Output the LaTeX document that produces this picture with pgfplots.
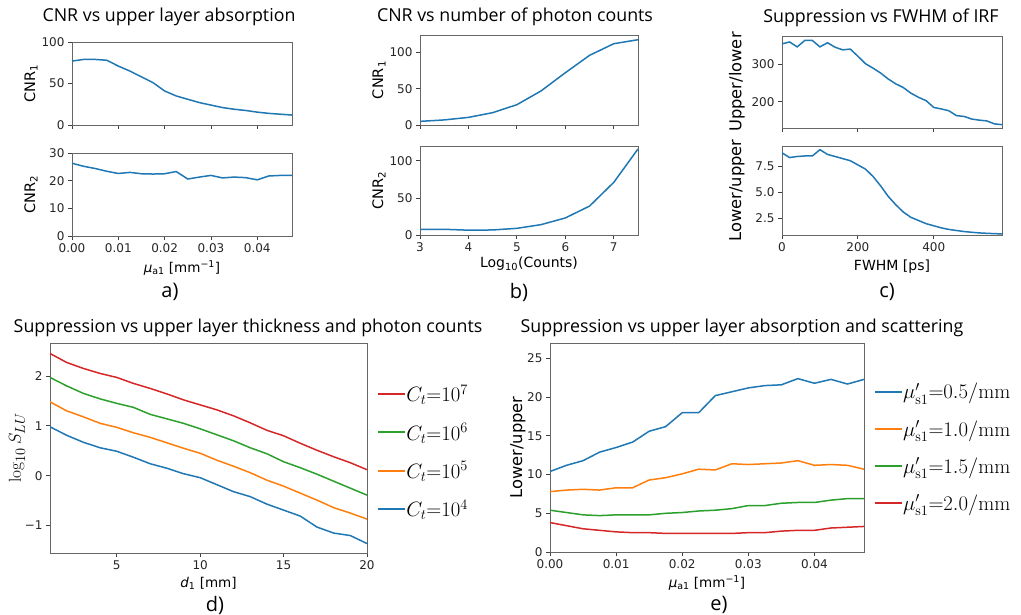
\documentclass[border=0pt]{standalone}
\usepackage[no-math]{fontspec}
\setmainfont{DejaVu Sans}
\newfontfamily\titlefont{Open Sans}
\usepackage{pgfplots}
\usepackage{pgfplotstable}
\pgfplotsset{compat=1.18}

\definecolor{tabblue}{HTML}{1F77B4}
\definecolor{taborange}{HTML}{FF7F0E}
\definecolor{tabgreen}{HTML}{2CA02C}
\definecolor{tabred}{HTML}{D62728}

% panel a: CNR vs upper layer absorption
\pgfplotstableread{
mu      cnra  cnrb
0.0000  77    26.3
0.0025  79    25.2
0.0050  79    24.4
0.0075  78    23.4
0.0100  71    22.6
0.0125  65    23.0
0.0150  58    22.5
0.0175  51    22.4
0.0200  41    22.5
0.0225  35    23.3
0.0250  31    20.6
0.0275  27    21.3
0.0300  24    21.9
0.0325  21    21.0
0.0350  19    21.3
0.0375  17.5  21.1
0.0400  15.5  20.3
0.0425  14    21.7
0.0450  13    21.9
0.0475  12    21.9
}\tabA

% panel b: CNR vs photon counts
\pgfplotstableread{
lc   cnra   cnrb
3.0  5.0    7.5
3.5  7.0    7.7
4.0  10.5   6.5
4.5  17     6.8
5.0  28     9.0
5.5  47     14
6.0  72     23
6.5  96     39
7.0  112    71
7.5  117.5  116
}\tabB

% panel c: suppression vs FWHM
\pgfplotstableread{
fwhm  ul   lu
0     355  8.75
20    360  8.30
40    347  8.40
60    364  8.45
80    364  8.45
100   347  9.05
120   358  8.60
140   346  8.40
160   339  8.20
180   341  8.00
200   322  7.60
220   302  7.20
240   290  6.50
260   277  5.60
280   261  4.60
300   248  3.80
320   238  3.10
340   223  2.60
360   212  2.30
380   203  2.00
400   185  1.80
420   181  1.60
440   176  1.45
460   163  1.35
480   161  1.25
500   154  1.18
520   151  1.12
540   149  1.08
560   141  1.05
580   139  1.02
}\tabC

% panel d: suppression vs thickness
\pgfplotstableread{
d   c7     c6     c5     c4
1   2.45   1.97   1.48   0.98
2   2.27   1.80   1.30   0.81
3   2.15   1.65   1.18   0.67
4   2.05   1.54   1.05   0.56
5   1.97   1.45   0.97   0.49
6   1.85   1.37   0.86   0.37
7   1.75   1.23   0.77   0.24
8   1.64   1.14   0.66   0.15
9   1.52   1.05   0.55   0.04
10  1.42   0.94   0.45   -0.04
11  1.32   0.82   0.31   -0.18
12  1.20   0.70   0.19   -0.32
13  1.06   0.56   0.06   -0.42
14  0.91   0.44   -0.09  -0.57
15  0.80   0.28   -0.21  -0.69
16  0.65   0.16   -0.35  -0.81
17  0.51   0.03   -0.49  -1.03
18  0.38   -0.11  -0.64  -1.15
19  0.26   -0.25  -0.75  -1.20
20  0.12   -0.39  -0.87  -1.36
}\tabD

% panel e: suppression vs absorption and scattering
\pgfplotstableread{
mu      s05   s10   s15  s20
0.0000  10.4  7.8   5.4  3.8
0.0025  11.2  8.0   5.1  3.4
0.0050  11.8  8.1   4.8  3.0
0.0075  12.9  8.0   4.7  2.8
0.0100  13.5  8.3   4.8  2.6
0.0125  14.2  8.3   4.8  2.5
0.0150  15.6  9.3   4.8  2.5
0.0175  16.2  9.6   5.0  2.4
0.0200  18.0  10.1  5.1  2.4
0.0225  18.0  10.7  5.3  2.4
0.0250  20.2  10.6  5.4  2.4
0.0275  20.7  11.4  5.6  2.4
0.0300  21.2  11.3  6.0  2.5
0.0325  21.5  11.4  6.0  2.5
0.0350  21.6  11.5  6.3  2.7
0.0375  22.4  11.8  6.4  2.8
0.0400  21.8  11.2  6.4  2.8
0.0425  22.3  11.3  6.7  3.1
0.0450  21.7  11.2  6.9  3.2
0.0475  22.3  10.7  6.9  3.3
}\tabE

\pgfplotsset{
  base/.style={
    scale only axis,
    axis line style={black!60, line width=0.8pt},
    tick style={black!75, line width=0.8pt},
    tick align=outside, major tick length=4pt,
    xtick pos=left, ytick pos=left,
    ticklabel style={font=\fontsize{12}{14}\selectfont, text=black!85},
    /pgf/number format/assume math mode=true,
    label style={text=black},
    every axis plot/.append style={line width=1.5pt, no markers},
  },
  ylab/.style={every axis y label/.style={at={(axis description cs:#1,0.5)}, rotate=90, anchor=center}},
  xlab/.style={every axis x label/.style={at={(axis description cs:0.5,0)}, anchor=center, yshift=-#1}},
  mux/.style={xmin=0, xmax=0.0475, xtick={0,0.01,0.02,0.03,0.04}, scaled x ticks=false,
    xticklabel style={/pgf/number format/.cd, fixed, fixed zerofill, precision=2}},
  leg/.style={legend cell align=left,
    legend image code/.code={\fill[##1, draw=none] (0pt,-1pt) rectangle (27pt,1pt);},
    legend style={draw=none, fill=none, inner sep=0pt, font=\fontsize{20}{22}\selectfont,
      nodes={inner sep=1pt}}},
}
\newcommand{\mua}{{\itshape μ}\textsubscript{a1} [mm\textsuperscript{−1}]}

\begin{document}
\begin{tikzpicture}
\useasboundingbox (0pt,0pt) rectangle (1021pt,-614pt);

% ---- panel a ----
\begin{axis}[base, at={(72pt,-42pt)}, anchor=north west, width=220pt, height=83pt,
  mux, xticklabels={}, ymin=0, ymax=100, ytick={0,50,100},
  ylab=-0.186, ylabel={\fontsize{14.5}{16}\selectfont CNR\textsubscript{1}}]
  \addplot[tabblue] table[x=mu, y=cnra] {\tabA};
\end{axis}
\begin{axis}[base, at={(72pt,-153pt)}, anchor=north west, width=220pt, height=83pt,
  mux, ymin=0, ymax=30, ytick={0,10,20,30},
  ylab=-0.186, ylabel={\fontsize{14.5}{16}\selectfont CNR\textsubscript{2}},
  xlab=32pt, xlabel={\fontsize{13.5}{15}\selectfont \mua}]
  \addplot[tabblue] table[x=mu, y=cnrb] {\tabA};
\end{axis}

% ---- panel b ----
\begin{axis}[base, at={(420pt,-35pt)}, anchor=north west, width=218pt, height=90pt,
  xmin=3, xmax=7.5, xtick={3,4,5,6,7}, xticklabels={}, ymin=0, ymax=124, ytick={0,50,100},
  ylab=-0.188, ylabel={\fontsize{14.5}{16}\selectfont CNR\textsubscript{1}}]
  \addplot[tabblue] table[x=lc, y=cnra] {\tabB};
\end{axis}
\begin{axis}[base, at={(420pt,-146pt)}, anchor=north west, width=218pt, height=89pt,
  xmin=3, xmax=7.5, xtick={3,4,5,6,7}, ymin=0, ymax=120, ytick={0,50,100},
  ylab=-0.188, ylabel={\fontsize{14.5}{16}\selectfont CNR\textsubscript{2}},
  xlab=29pt, xlabel={\fontsize{14}{16}\selectfont Log\textsubscript{10}(Counts)}]
  \addplot[tabblue] table[x=lc, y=cnrb] {\tabB};
\end{axis}

% ---- panel c ----
\begin{axis}[base, at={(782pt,-36pt)}, anchor=north west, width=220pt, height=92pt,
  xmin=0, xmax=580, xtick={0,200,400}, xticklabels={}, ymin=130, ymax=376, ytick={200,300},
  ylab=-0.205, ylabel={\fontsize{16.3}{18}\selectfont Upper/lower}]
  \addplot[tabblue] table[x=fwhm, y=ul] {\tabC};
\end{axis}
\begin{axis}[base, at={(782pt,-146pt)}, anchor=north west, width=220pt, height=89pt,
  xmin=0, xmax=580, xtick={0,200,400}, ymin=0.92, ymax=9.4, ytick={2.5,5,7.5},
  yticklabel style={/pgf/number format/.cd, fixed, fixed zerofill, precision=1},
  ylab=-0.205, ylabel={\fontsize{16.3}{18}\selectfont Lower/upper},
  xlab=32pt, xlabel={\fontsize{14}{16}\selectfont FWHM [ps]}]
  \addplot[tabblue] table[x=fwhm, y=lu] {\tabC};
\end{axis}

% ---- panel d ----
\begin{axis}[base, leg, at={(50pt,-343pt)}, anchor=north west, width=317pt, height=210pt,
  xmin=1, xmax=20, xtick={5,10,15,20}, ymin=-1.55, ymax=2.66, ytick={-1,0,1,2},
  yticklabels={−1,0,1,2},
  ylab=-0.104, ylabel={\fontsize{19}{21}\selectfont $\log_{10}S_{LU}$},
  xlab=30pt, xlabel={\fontsize{13.5}{15}\selectfont {\itshape d}\textsubscript{1} [mm]},
  legend style={at={(axis description cs:1.035,0.483)}, anchor=west, row sep=18pt}]
  \addplot[tabred] table[x=d, y=c7] {\tabD};
  \addlegendentry{$C_t{=}10^7$}
  \addplot[tabgreen] table[x=d, y=c6] {\tabD};
  \addlegendentry{$C_t{=}10^6$}
  \addplot[taborange] table[x=d, y=c5] {\tabD};
  \addlegendentry{$C_t{=}10^5$}
  \addplot[tabblue] table[x=d, y=c4] {\tabD};
  \addlegendentry{$C_t{=}10^4$}
\end{axis}

% ---- panel e ----
\begin{axis}[base, leg, at={(550pt,-343pt)}, anchor=north west, width=314pt, height=209pt,
  mux, ymin=0, ymax=27, ytick={0,5,10,15,20,25},
  ylab=-0.102, ylabel={\fontsize{16.3}{18}\selectfont Lower/upper},
  xlab=31pt, xlabel={\fontsize{13.5}{15}\selectfont \mua},
  legend style={at={(axis description cs:1.035,0.5)}, anchor=west, row sep=18pt}]
  \addplot[tabblue] table[x=mu, y=s05] {\tabE};
  \addlegendentry{$\mu'_{\mathrm{s1}}{=}0.5/\mathrm{mm}$}
  \addplot[taborange] table[x=mu, y=s10] {\tabE};
  \addlegendentry{$\mu'_{\mathrm{s1}}{=}1.0/\mathrm{mm}$}
  \addplot[tabgreen] table[x=mu, y=s15] {\tabE};
  \addlegendentry{$\mu'_{\mathrm{s1}}{=}1.5/\mathrm{mm}$}
  \addplot[tabred] table[x=mu, y=s20] {\tabE};
  \addlegendentry{$\mu'_{\mathrm{s1}}{=}2.0/\mathrm{mm}$}
\end{axis}

% ---- titles and panel letters ----
\begin{scope}[every node/.style={font=\titlefont\fontsize{17.8}{21}\selectfont, anchor=center}]
  \node at (169pt,-17pt) {CNR vs upper layer absorption};
  \node at (515pt,-17pt) {CNR vs number of photon counts};
  \node at (881pt,-18pt) {Suppression vs FWHM of IRF};
  \node at (248pt,-328pt) {Suppression vs upper layer thickness and photon counts};
  \node at (742pt,-328pt) {Suppression vs upper layer absorption and scattering};
\end{scope}
\begin{scope}[every node/.style={font=\titlefont\fontsize{20}{23}\selectfont, anchor=center}]
  \node at (170pt,-292pt) {a)};
  \node at (519pt,-292pt) {b)};
  \node at (887pt,-292pt) {c)};
  \node at (215pt,-605pt) {d)};
  \node at (719pt,-605pt) {e)};
\end{scope}
\end{tikzpicture}
\end{document}
